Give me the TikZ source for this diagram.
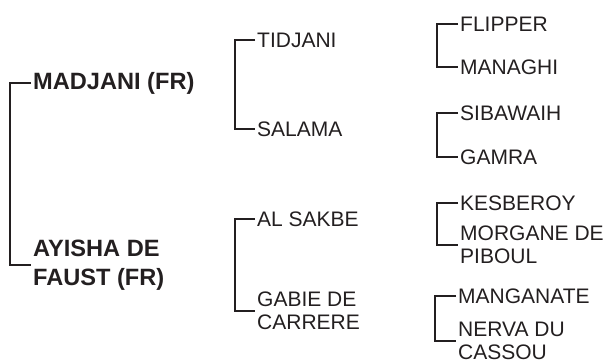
\documentclass[tikz,border=0pt]{standalone}
\usepackage{fontspec}
\setmainfont{Liberation Sans}
\definecolor{ink}{HTML}{231F20}

\tikzset{
  sire/.style={anchor=west, inner xsep=2pt, inner ysep=0pt, align=left, text=ink,
    font=\fontsize{23.6}{29}\selectfont\bfseries},
  horse/.style={anchor=west, inner xsep=2pt, inner ysep=0pt, align=left, text=ink,
    font=\fontsize{21}{23}\selectfont},
  bracket/.style={draw=ink, line width=2pt}
}

\begin{document}
\begin{tikzpicture}[x=1pt, y=-1pt]

  \useasboundingbox (0,0) rectangle (608,363);

  % First generation
  \node[sire] (madjani) at (31, 83)  {MADJANI (FR)};
  \node[sire] (ayisha)  at (31, 265) {AYISHA DE\\FAUST (FR)};

  % Second generation
  \node[horse] (tidjani) at (255, 40)  {TIDJANI};
  \node[horse] (salama)  at (255, 129) {SALAMA};
  \node[horse] (alsakbe) at (255, 219) {AL SAKBE};
  \node[horse] (gabie)   at (255, 311) {GABIE DE\\CARRERE};

  % Third generation
  \node[horse] (flipper)   at (458, 24)  {FLIPPER};
  \node[horse] (managhi)   at (458, 67)  {MANAGHI};
  \node[horse] (sibawaih)  at (458, 113) {SIBAWAIH};
  \node[horse] (gamra)     at (458, 157) {GAMRA};
  \node[horse] (kesberoy)  at (458, 203) {KESBEROY};
  \node[horse] (morgane)   at (458, 245) {MORGANE DE\\PIBOUL};
  \node[horse] (manganate) at (456, 296) {MANGANATE};
  \node[horse] (nerva)     at (456, 341) {NERVA DU\\CASSOU};

  % Brackets
  \draw[bracket] (madjani.west) -- ++(-21,0) |- (ayisha.west);

  \draw[bracket] (tidjani.west) -- ++(-20,0) |- (salama.west);
  \draw[bracket] (alsakbe.west) -- ++(-20,0) |- (gabie.west);

  \draw[bracket] (flipper.west)   -- ++(-21,0) |- (managhi.west);
  \draw[bracket] (sibawaih.west)  -- ++(-21,0) |- (gamra.west);
  \draw[bracket] (kesberoy.west)  -- ++(-21,0) |- (morgane.west);
  \draw[bracket] (manganate.west) -- ++(-21,0) |- (nerva.west);

\end{tikzpicture}
\end{document}
